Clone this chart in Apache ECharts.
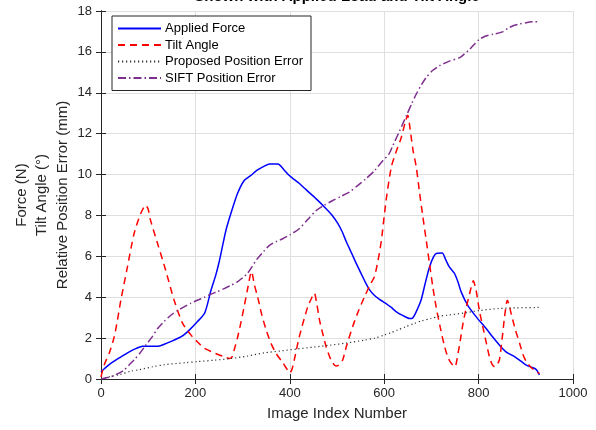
<!DOCTYPE html>
<html>
<head>
<meta charset="utf-8">
<script src="https://cdn.jsdelivr.net/npm/echarts/dist/echarts.min.js"></script>
<style>
  html, body { margin: 0; padding: 0; background: #fff; }
  #chart { width: 596px; height: 430px; }
</style>
</head>
<body>
<div id="chart"></div>
<script>
// Applied force (N) over the image sequence
const forceX = [0, 7, 20, 40, 60, 75, 88, 105, 120, 134, 150, 162, 175, 187, 204, 219, 226, 233, 243, 250, 257, 265, 275, 289, 303, 317, 330, 345, 357, 375, 387, 399, 410, 421, 435, 456, 477, 490, 502, 511, 520, 530, 541, 558, 568, 579, 590, 604, 615, 625, 640, 654, 660, 666, 678, 686, 696, 705, 712, 723, 730, 738, 749, 757, 763, 777, 795, 816, 830, 844, 858, 876, 888, 901, 915, 922, 929];
const forceY = [0.35, 0.5, 0.75, 1.05, 1.33, 1.5, 1.6, 1.6, 1.6, 1.7, 1.85, 1.98, 2.15, 2.39, 2.8, 3.2, 3.7, 4.34, 5.07, 5.7, 6.45, 7.3, 8.08, 9.06, 9.7, 9.95, 10.2, 10.4, 10.52, 10.52, 10.25, 9.95, 9.75, 9.55, 9.25, 8.81, 8.33, 8.0, 7.6, 7.2, 6.7, 6.2, 5.64, 4.83, 4.4, 4.1, 3.9, 3.69, 3.5, 3.3, 3.1, 2.96, 2.98, 3.2, 3.85, 4.6, 5.48, 6.0, 6.15, 6.16, 5.85, 5.48, 5.16, 4.7, 4.26, 3.6, 3.04, 2.47, 2.05, 1.66, 1.33, 1.09, 0.9, 0.68, 0.55, 0.47, 0.2];

// Tilt angle (deg)
const tiltX = [0, 7, 18, 28, 35, 42, 56, 70, 84, 95, 100, 105, 120, 137, 155, 173, 194, 205, 219, 243, 260, 272, 278, 282, 289, 296, 303, 310, 319, 325, 332, 340, 350, 360, 371, 385, 395, 400, 405, 412, 420, 438, 447, 452, 457, 463, 470, 477, 488, 498, 505, 512, 520, 533, 545, 558, 570, 579, 587, 594, 604, 615, 625, 636, 645, 650, 655, 661, 668, 675, 682, 689, 696, 703, 710, 719, 728, 736, 745, 750, 756, 762, 767, 774, 781, 789, 793, 796, 802, 809, 816, 823, 829, 834, 839, 844, 850, 855, 861, 865, 869, 878, 887, 894, 901, 912, 922, 929];
const tiltY = [0.1, 0.7, 1.3, 2.06, 2.9, 3.85, 5.48, 7.1, 8.08, 8.5, 8.3, 7.76, 6.62, 5.32, 3.85, 2.72, 2.06, 1.8, 1.5, 1.25, 1.1, 1.0, 1.1, 1.41, 2.0, 2.72, 3.5, 4.34, 5.25, 4.6, 4.01, 3.2, 2.39, 1.75, 1.25, 0.8, 0.45, 0.3, 0.5, 1.2, 2.06, 3.53, 4.0, 4.2, 3.7, 2.88, 2.2, 1.58, 0.9, 0.63, 0.7, 0.93, 1.6, 2.55, 3.3, 4.01, 4.6, 4.99, 5.8, 6.78, 8.73, 10.36, 11.1, 11.8, 12.6, 12.9, 12.2, 11.2, 10.36, 9.1, 7.92, 6.8, 5.64, 4.5, 3.53, 2.5, 1.58, 1.0, 0.68, 0.6, 1.2, 2.0, 2.72, 3.5, 4.18, 4.8, 4.5, 4.18, 3.3, 2.55, 1.8, 1.09, 0.7, 0.6, 0.7, 0.93, 2.0, 3.04, 3.85, 3.6, 3.2, 2.4, 1.74, 1.2, 0.85, 0.55, 0.36, 0.28];

// Proposed method, relative position error (mm)
const proposedX = [0, 18, 40, 63, 82, 110, 134, 160, 180, 204, 240, 275, 310, 346, 380, 416, 450, 487, 520, 558, 580, 600, 615, 628, 645, 664, 680, 699, 717, 734, 770, 802, 844, 880, 929];
const proposedY = [0.02, 0.11, 0.22, 0.38, 0.46, 0.6, 0.7, 0.76, 0.8, 0.85, 0.92, 1.0, 1.12, 1.28, 1.37, 1.47, 1.56, 1.66, 1.76, 1.9, 2.0, 2.15, 2.27, 2.39, 2.55, 2.72, 2.85, 2.96, 3.07, 3.12, 3.23, 3.35, 3.45, 3.48, 3.5];

// SIFT, relative position error (mm)
const siftX = [0, 21, 35, 49, 60, 70, 82, 95, 108, 120, 134, 148, 162, 176, 190, 204, 219, 233, 247, 261, 275, 289, 300, 310, 320, 330, 345, 357, 371, 385, 400, 420, 438, 456, 473, 491, 508, 526, 543, 561, 580, 597, 610, 618, 632, 647, 658, 668, 679, 689, 703, 717, 738, 760, 770, 781, 792, 802, 815, 830, 851, 862, 872, 886, 901, 915, 929];
const siftY = [0, 0.11, 0.25, 0.44, 0.7, 0.93, 1.25, 1.66, 2.05, 2.47, 2.82, 3.12, 3.35, 3.53, 3.7, 3.85, 4.0, 4.15, 4.28, 4.42, 4.58, 4.75, 4.95, 5.16, 5.5, 5.85, 6.25, 6.54, 6.72, 6.86, 7.05, 7.35, 7.8, 8.24, 8.5, 8.73, 8.93, 9.14, 9.45, 9.79, 10.2, 10.68, 11.0, 11.4, 12.1, 12.88, 13.45, 13.94, 14.4, 14.75, 15.1, 15.32, 15.55, 15.72, 15.9, 16.13, 16.4, 16.62, 16.78, 16.86, 16.98, 17.15, 17.27, 17.36, 17.43, 17.47, 17.48];

const seriesNames = ['Applied Force', 'Tilt Angle', 'Proposed Position Error', 'SIFT Position Error'];
const yAxisTitle = 'Force (N)\nTilt Angle (°)\nRelative Position Error (mm)';
const xTicks = { min: 0, max: 1000, interval: 200 };
const yTicks = { min: 0, max: 18, interval: 2 };

const pairs = (xs, ys) => xs.map((x, i) => [x, ys[i]]);

const FONT = 'Liberation Sans, Arial, Helvetica, sans-serif';
const INK = '#262626';

const chart = echarts.init(document.getElementById('chart'), null, { renderer: 'canvas' });

function lineSeries(name, data, color, width, dash) {
  return {
    name: name,
    type: 'line',
    data: data,
    xAxisIndex: 0,
    yAxisIndex: 0,
    symbol: 'none',
    smooth: 0.25,
    animation: false,
    lineStyle: { color: color, width: width, type: dash },
    itemStyle: { color: color }
  };
}

const frameAxis = {
  axisLine: { show: true, lineStyle: { color: INK, width: 1 } },
  axisTick: { show: true, inside: true, length: 5, lineStyle: { color: INK } },
  axisLabel: { show: false },
  splitLine: { show: false }
};

chart.setOption({
  backgroundColor: '#ffffff',
  textStyle: { fontFamily: FONT },
  grid: { left: 101, right: 23, top: 11, bottom: 51, containLabel: false, outerBoundsMode: 'none' },
  graphic: [{
    type: 'text',
    x: 337,
    y: 4,
    style: {
      text: 'Shown with Applied Load and Tilt Angle',
      font: 'bold 15px ' + FONT,
      fill: '#000',
      textAlign: 'center',
      textVerticalAlign: 'bottom'
    }
  }, {
    // three-line y-axis title, rotated to read bottom-to-top
    type: 'text',
    x: 42,
    y: 195,
    rotation: Math.PI / 2,
    style: {
      text: yAxisTitle,
      font: '15px ' + FONT,
      lineHeight: 20.5,
      fill: INK,
      textAlign: 'center',
      textVerticalAlign: 'middle'
    }
  }],
  legend: {
    orient: 'vertical',
    left: 112,
    top: 16,
    padding: [6, 8, 6, 5],
    itemWidth: 43,
    itemHeight: 14,
    itemGap: 3.5,
    backgroundColor: '#fff',
    borderColor: INK,
    borderWidth: 1,
    borderRadius: 0,
    itemStyle: { opacity: 0 },
    textStyle: { fontSize: 13, color: '#000', fontFamily: FONT, padding: [0, 0, 0, -1] },
    data: seriesNames
  },
  xAxis: [
    Object.assign({
      type: 'value',
      position: 'bottom',
      name: 'Image Index Number',
      nameLocation: 'middle',
      nameGap: 27,
      nameTextStyle: { fontSize: 15, color: INK, fontFamily: FONT },
      axisLine: { show: true, onZero: false, lineStyle: { color: INK, width: 1 } },
      axisTick: { show: true, inside: true, length: 5, lineStyle: { color: INK } },
      axisLabel: { color: INK, fontSize: 13, margin: 8, fontFamily: FONT, formatter: (v) => String(v) },
      splitLine: { show: true, lineStyle: { color: '#dfdfdf', width: 1 } }
    }, xTicks),
    Object.assign({ type: 'value', position: 'top' }, xTicks, frameAxis)
  ],
  yAxis: [
    Object.assign({
      type: 'value',
      position: 'left',
      axisLine: { show: true, onZero: false, lineStyle: { color: INK, width: 1 } },
      axisTick: { show: true, inside: true, length: 5, lineStyle: { color: INK } },
      axisLabel: { color: INK, fontSize: 13, margin: 9, fontFamily: FONT },
      splitLine: { show: true, lineStyle: { color: '#dfdfdf', width: 1 } }
    }, yTicks),
    Object.assign({ type: 'value', position: 'right' }, yTicks, frameAxis)
  ],
  series: [
    lineSeries(seriesNames[0], pairs(forceX, forceY), '#0000ff', 1.5, 'solid'),
    lineSeries(seriesNames[1], pairs(tiltX, tiltY), '#ff0000', 1.5, [7, 5]),
    lineSeries(seriesNames[2], pairs(proposedX, proposedY), '#333333', 1.2, [1.2, 2.8]),
    lineSeries(seriesNames[3], pairs(siftX, siftY), '#7e2f8e', 1.5, [8, 3, 1.5, 3])
  ]
});
</script>
</body>
</html>
